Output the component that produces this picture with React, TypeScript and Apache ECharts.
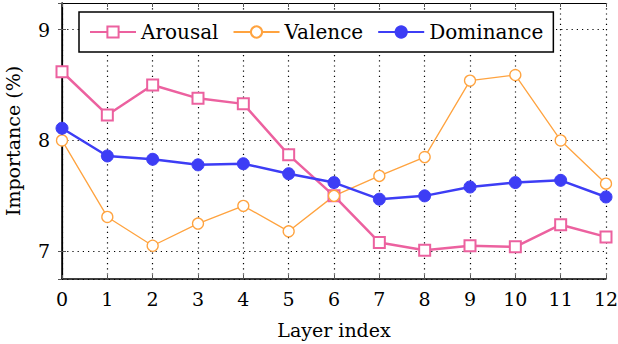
import React, { useEffect, useRef } from "react";
import * as echarts from "echarts";

const layers = [0, 1, 2, 3, 4, 5, 6, 7, 8, 9, 10, 11, 12];
const arousal = [8.62, 8.23, 8.5, 8.38, 8.33, 7.87, 7.5, 7.08, 7.01, 7.05, 7.04, 7.24, 7.13];
const valence = [8.0, 7.31, 7.05, 7.25, 7.41, 7.18, 7.5, 7.68, 7.85, 8.54, 8.59, 8.0, 7.61];
const dominance = [8.11, 7.86, 7.83, 7.78, 7.79, 7.7, 7.62, 7.47, 7.5, 7.58, 7.62, 7.64, 7.49];

const FONT = "DejaVu Serif";

export default function App() {
  const ref = useRef<HTMLDivElement>(null);
  useEffect(() => {
    const chart = echarts.init(ref.current!, null, { renderer: "svg" });
    const pair = (arr: number[]) => layers.map((x, i) => [x, arr[i]]);
    const dotted = { color: "#000", width: 1.2, type: [1.2, 4] as any };
    chart.setOption({
      animation: false,
      textStyle: { fontFamily: FONT },
      grid: { left: 62, right: 12, top: 3, bottom: 65, outerBoundsMode: "none", containLabel: false } as any,
      legend: {
        left: 79,
        top: 12,
        padding: [10, 10, 10, 10],
        itemWidth: 46,
        itemHeight: 14,
        itemGap: 14,
        borderColor: "#000",
        borderWidth: 1.5,
        backgroundColor: "#fff",
        textStyle: { fontFamily: FONT, fontSize: 20, color: "#000" },
        data: ["Arousal", "Valence", "Dominance"],
      },
      xAxis: [
        {
          type: "value",
          min: 0,
          max: 12,
          interval: 1,
          name: "Layer index",
          nameLocation: "middle",
          nameGap: 41,
          nameTextStyle: { fontFamily: FONT, fontSize: 19, color: "#000" },
          axisLine: { lineStyle: { color: "#000", width: 1.5 } },
          axisTick: { inside: true, length: 4, lineStyle: { color: "#555" } },
          axisLabel: { fontFamily: FONT, fontSize: 19, color: "#000", margin: 10 },
          splitLine: { show: true, lineStyle: dotted },
        },
        {
          type: "value",
          position: "top",
          min: 0,
          max: 12,
          interval: 1,
          axisLine: { show: true, lineStyle: { color: "#000", width: 1.2 } },
          axisTick: { show: true, inside: true, length: 4, lineStyle: { color: "#555" } },
          axisLabel: { show: false },
          splitLine: { show: false },
        },
      ],
      yAxis: [
        {
          type: "value",
          min: 6.75,
          max: 9.24,
          splitNumber: 3,
          name: "Importance (%)",
          nameLocation: "middle",
          nameGap: 40,
          nameTextStyle: { fontFamily: FONT, fontSize: 19, color: "#000" },
          axisLine: { show: true, lineStyle: { color: "#000", width: 1.5 } },
          axisTick: { inside: true, length: 4, lineStyle: { color: "#555" } },
          axisLabel: { fontFamily: FONT, fontSize: 19, color: "#000", margin: 12, showMinLabel: false, showMaxLabel: false },
          splitLine: { show: true, lineStyle: dotted },
        },
        {
          type: "value",
          position: "right",
          min: 6.75,
          max: 9.24,
          splitNumber: 3,
          axisLine: { show: true, lineStyle: { color: "#000", width: 1.2 } },
          axisTick: { show: true, inside: true, length: 4, lineStyle: { color: "#555" } },
          axisLabel: { show: false },
          splitLine: { show: false },
        },
      ],
      series: [
        {
          name: "Arousal",
          type: "line",
          data: pair(arousal),
          symbol: "rect",
          symbolSize: 11,
          color: "#ec619f",
          lineStyle: { width: 2.5, color: "#ec619f" },
          itemStyle: { color: "#fff", borderColor: "#ec619f", borderWidth: 2 },
        },
        {
          name: "Valence",
          type: "line",
          data: pair(valence),
          symbol: "circle",
          symbolSize: 11,
          color: "#ffa33f",
          lineStyle: { width: 1.3, color: "#ffa33f" },
          itemStyle: { color: "#fff", borderColor: "#ffa33f", borderWidth: 1.3 },
        },
        {
          name: "Dominance",
          type: "line",
          data: pair(dominance),
          symbol: "circle",
          symbolSize: 12,
          color: "#3d3df5",
          lineStyle: { width: 2.5, color: "#3d3df5" },
          itemStyle: { color: "#3d3df5", borderColor: "#3d3df5", borderWidth: 1 },
        },
      ],
    });
    return () => chart.dispose();
  }, []);
  return <div ref={ref} style={{ width: 618, height: 344, position: "absolute", left: 0, top: 0 }} />;
}
